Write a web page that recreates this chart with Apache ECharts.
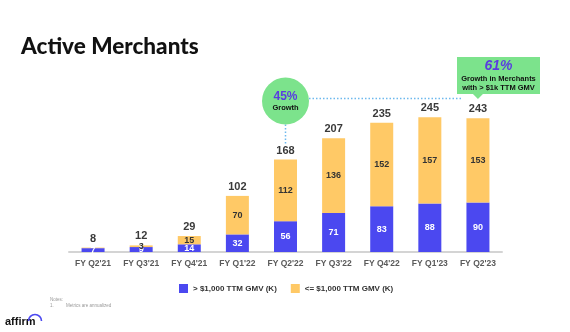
<!DOCTYPE html>
<html><head><meta charset="utf-8">
<script src="https://cdn.jsdelivr.net/npm/echarts@6/dist/echarts.min.js"></script>
<style>html,body{margin:0;padding:0;background:#fff}#c{width:570px;height:332px}</style>
</head><body><div id="c"></div>
<script>
var categories = ["FY Q2'21","FY Q3'21","FY Q4'21","FY Q1'22","FY Q2'22","FY Q3'22","FY Q4'22","FY Q1'23","FY Q2'23"];
var over1k = [7, 9, 14, 32, 56, 71, 83, 88, 90];
var under1k = [1, 3, 15, 70, 112, 136, 152, 157, 153];
var totals = [8, 12, 29, 102, 168, 207, 235, 245, 243];
var seriesNames = ["> $1,000 TTM GMV (K)", "<= $1,000 TTM GMV (K)"];

var BLUE = '#4B48F0', YELLOW = '#FFC966', GREEN = '#7CE38C', PURPLE = '#5A3DE0', DOT = '#6DB9EE';
var chart = echarts.init(document.getElementById('c'), null, {renderer: 'canvas'});
var font = 'Liberation Sans, Arial, sans-serif';
var option = {
  animation: false,
  title: {text: 'Active Merchants', left: 16, top: 30,
    textStyle: {fontFamily: 'Lato, sans-serif', fontSize: 22.5, fontWeight: 900, color: '#111'}},
  grid: {left: 69, right: 68, top: 87, bottom: 80},
  legend: {left: 174, top: 279, itemWidth: 9, itemHeight: 9, itemGap: 14, icon: 'rect',
    textStyle: {fontFamily: font, fontSize: 8, fontWeight: 'bold', color: '#333'},
    data: seriesNames},
  xAxis: {type: 'category', data: categories,
    axisLine: {lineStyle: {color: '#d4d4d4', width: 2}}, axisTick: {show: false},
    axisLabel: {fontFamily: font, fontSize: 8.5, fontWeight: 'bold', color: '#5a5a5a', margin: 7}},
  yAxis: {type: 'value', min: 0, max: 300, show: false, splitLine: {show: false}},
  series: [
    {name: seriesNames[0], type: 'bar', stack: 'a', data: over1k, barWidth: 23,
      itemStyle: {color: BLUE},
      label: {show: true, position: 'inside', color: '#fff', fontFamily: font, fontSize: 9, fontWeight: 'bold'}},
    {name: seriesNames[1], type: 'bar', stack: 'a', data: under1k, barWidth: 23,
      itemStyle: {color: YELLOW},
      label: {show: true, position: 'inside', color: '#333', fontFamily: font, fontSize: 9, fontWeight: 'bold',
        formatter: function (p) { return p.value < 2 ? '' : String(p.value); }}},
    {name: 'total', type: 'line', data: totals, symbol: 'circle', symbolSize: 1, showSymbol: true,
      itemStyle: {color: 'rgba(0,0,0,0)'}, lineStyle: {color: 'rgba(0,0,0,0)', width: 0}, silent: true, z: 10,
      label: {show: true, position: 'top', distance: 3, color: '#3a3a3a', fontFamily: font, fontSize: 11, fontWeight: 'bold'}}
  ]
};
chart.setOption(option);

var pQ222 = chart.convertToPixel({seriesIndex: 0}, [4, 0]);
var pQ223 = chart.convertToPixel({seriesIndex: 0}, [8, 0]);
var cx = pQ222[0], cy = 101, r = 23.5;
var bx = 457, by = 57, bw = 83, bh = 37;
var tipX = pQ223[0];
chart.setOption({graphic: [
  {type: 'line', shape: {x1: cx + r, y1: 98.5, x2: bx + 5, y2: 98.5}, style: {stroke: DOT, lineWidth: 1.5, lineDash: [1.5, 2]}},
  {type: 'line', shape: {x1: cx, y1: cy + r, x2: cx, y2: 144}, style: {stroke: DOT, lineWidth: 1.5, lineDash: [1.5, 2]}},
  {type: 'circle', shape: {cx: cx, cy: cy, r: r}, style: {fill: GREEN}},
  {type: 'text', x: cx, y: 97, style: {text: '45%', fill: PURPLE, font: 'bold 12px ' + font, textAlign: 'center', textVerticalAlign: 'middle'}},
  {type: 'text', x: cx, y: 107.5, style: {text: 'Growth', fill: '#111', font: 'bold 7.5px ' + font, textAlign: 'center', textVerticalAlign: 'middle'}},
  {type: 'rect', shape: {x: bx, y: by, width: bw, height: bh}, style: {fill: GREEN}},
  {type: 'polygon', shape: {points: [[tipX - 5, by + bh], [tipX + 5, by + bh], [tipX, by + bh + 5]]}, style: {fill: GREEN}},
  {type: 'text', x: bx + bw / 2, y: 66, style: {text: '61%', fill: PURPLE, font: 'italic bold 14px ' + font, textAlign: 'center', textVerticalAlign: 'middle'}},
  {type: 'text', x: bx + bw / 2, y: 79, style: {text: 'Growth in Merchants', fill: '#111', font: 'bold 7.5px ' + font, textAlign: 'center', textVerticalAlign: 'middle'}},
  {type: 'text', x: bx + bw / 2, y: 88, style: {text: 'with > $1k TTM GMV', fill: '#111', font: 'bold 7.5px ' + font, textAlign: 'center', textVerticalAlign: 'middle'}},
  {type: 'text', x: 50, y: 300, style: {text: 'Notes:', fill: '#999', font: '4.5px ' + font, textVerticalAlign: 'middle'}},
  {type: 'text', x: 50, y: 306, style: {text: '1.', fill: '#999', font: '4.5px ' + font, textVerticalAlign: 'middle'}},
  {type: 'text', x: 66, y: 306, style: {text: 'Metrics are annualized', fill: '#999', font: '4.5px ' + font, textVerticalAlign: 'middle'}},
  {type: 'text', x: 5, y: 322, style: {text: 'affirm', fill: '#111', font: 'bold 11px ' + font, textVerticalAlign: 'middle'}},
  {type: 'arc', shape: {cx: 35, cy: 321, r: 6.5, startAngle: Math.PI, endAngle: 2 * Math.PI}, style: {stroke: BLUE, lineWidth: 1.6, fill: 'none'}}
]});
</script></body></html>
